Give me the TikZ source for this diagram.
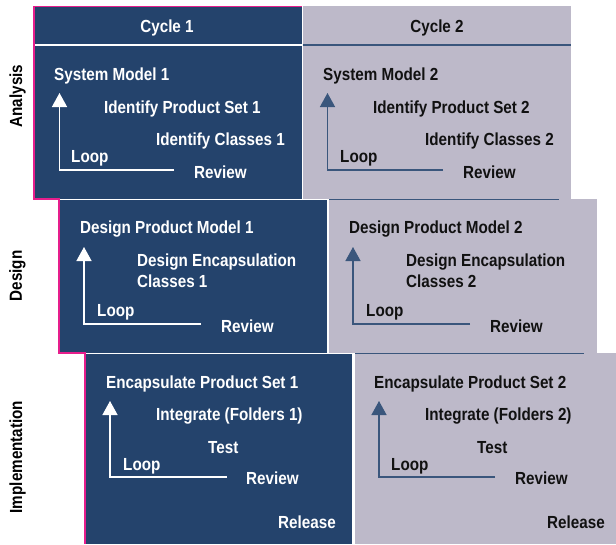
\documentclass[tikz,border=0pt]{standalone}
\usepackage{fontspec}
\newfontfamily\lf{Liberation Sans}[FakeStretch=0.87]
\usetikzlibrary{arrows.meta}
\definecolor{darkbox}{RGB}{36,67,108}
\definecolor{graybox}{RGB}{189,185,201}
\definecolor{pinkedge}{RGB}{230,30,140}
\definecolor{grayline}{RGB}{58,86,124}
\definecolor{graytext}{RGB}{17,17,17}
\tikzset{
  txt/.style={anchor=base west, inner sep=0pt, font=\lf\bfseries\fontsize{17.5}{20}\selectfont},
  wtxt/.style={txt, text=white},
  gtxt/.style={txt, text=graytext},
  rowlbl/.style={anchor=center, inner sep=0pt, rotate=90, font=\lf\bfseries\fontsize{17.5}{20}\selectfont, text=black},
  wloop/.style={draw=white, line width=1.4pt, -{Triangle[width=15pt,length=14pt]}},
  gloop/.style={draw=grayline, line width=1.4pt, -{Triangle[width=15pt,length=14pt]}},
  pinkb/.style={draw=pinkedge, line width=2pt},
  whiteb/.style={draw=white, line width=1.3pt},
  grayb/.style={draw=grayline, line width=1.3pt}
}
\begin{document}
\begin{tikzpicture}[x=1pt,y=-1pt]
\useasboundingbox (0,0) rectangle (616,544);
% ---------- Analysis row ----------
\fill[darkbox] (33,6) rectangle (302,199);
\draw[whiteb] (33,45) -- (302,45);
\draw[whiteb] (302.3,6) -- (302.3,199);
\draw[pinkedge, line width=1pt] (33,6.5) -- (302,6.5);
\draw[pinkb] (34,6) -- (34,199) -- (60,199);
\fill[graybox] (303,6) rectangle (571,199);
\draw[grayb] (303,45) -- (571,45);
% ---------- Design row ----------
\fill[darkbox] (58,199) rectangle (327,353);
\draw[whiteb] (58,199.5) -- (328,199.5);
\draw[whiteb] (327.5,199) -- (327.5,353);
\draw[pinkb] (59,199) -- (59,353) -- (86,353);
\fill[graybox] (329,199) rectangle (597,353);
\draw[grayb] (329,199.8) -- (559,199.8);
% ---------- Implementation row ----------
\fill[darkbox] (84,353) rectangle (352,544);
\draw[whiteb] (84,353.5) -- (353,353.5);
\draw[whiteb] (352.8,353) -- (352.8,544);
\draw[pinkb] (85,353) -- (85,544);
\fill[graybox] (355,353) rectangle (616,544);
\draw[grayb] (355,353.8) -- (584,353.8);
% ---------- Row labels ----------
\node[rowlbl] (lanalysis) at (17.5,96) {Analysis};
\node[rowlbl] (ldesign) at (17.5,276) {Design};
\node[rowlbl] (limpl) at (17.5,457) {Implementation};
% ---------- Headers ----------
\node[wtxt, anchor=base] (cyc1) at (167,32) {Cycle 1};
\node[gtxt, anchor=base] (cyc2) at (437,32) {Cycle 2};
% ---------- Analysis cycle 1 ----------
\node[wtxt] (a1sys) at (54,80) {System Model 1};
\node[wtxt] (a1ips) at (104,113) {Identify Product Set 1};
\node[wtxt] (a1ic) at (156,145) {Identify Classes 1};
\node[wtxt] (a1loop) at (71,162) {Loop};
\node[wtxt] (a1rev) at (194,178) {Review};
\coordinate (a1s) at (174,170);
\coordinate (a1c) at (59.5,170);
\coordinate (a1t) at (59.5,93);
\draw[wloop] (a1s) -- (a1c) -- (a1t);
% ---------- Analysis cycle 2 ----------
\node[gtxt] (a2sys) at (323,80) {System Model 2};
\node[gtxt] (a2ips) at (373,113) {Identify Product Set 2};
\node[gtxt] (a2ic) at (425,145) {Identify Classes 2};
\node[gtxt] (a2loop) at (340,162) {Loop};
\node[gtxt] (a2rev) at (463,178) {Review};
\coordinate (a2s) at (443,170);
\coordinate (a2c) at (327.5,170);
\coordinate (a2t) at (327.5,93);
\draw[gloop] (a2s) -- (a2c) -- (a2t);
% ---------- Design cycle 1 ----------
\node[wtxt] (d1dpm) at (80,233) {Design Product Model 1};
\node[wtxt] (d1dec) at (137,266) {Design Encapsulation};
\node[wtxt] (d1cls) at (137,287) {Classes 1};
\node[wtxt] (d1loop) at (97,316) {Loop};
\node[wtxt] (d1rev) at (221,332) {Review};
\coordinate (d1s) at (201,324);
\coordinate (d1c) at (84,324);
\coordinate (d1t) at (84,247);
\draw[wloop] (d1s) -- (d1c) -- (d1t);
% ---------- Design cycle 2 ----------
\node[gtxt] (d2dpm) at (349,233) {Design Product Model 2};
\node[gtxt] (d2dec) at (406,266) {Design Encapsulation};
\node[gtxt] (d2cls) at (406,287) {Classes 2};
\node[gtxt] (d2loop) at (366,316) {Loop};
\node[gtxt] (d2rev) at (490,332) {Review};
\coordinate (d2s) at (470,324);
\coordinate (d2c) at (353,324);
\coordinate (d2t) at (353,247);
\draw[gloop] (d2s) -- (d2c) -- (d2t);
% ---------- Implementation cycle 1 ----------
\node[wtxt] (i1eps) at (106,388) {Encapsulate Product Set 1};
\node[wtxt] (i1int) at (156,420) {Integrate (Folders 1)};
\node[wtxt] (i1test) at (208,453) {Test};
\node[wtxt] (i1loop) at (123,470) {Loop};
\node[wtxt] (i1rev) at (246,484) {Review};
\node[wtxt] (i1rel) at (278,528) {Release};
\coordinate (i1s) at (227,477);
\coordinate (i1c) at (110,477);
\coordinate (i1t) at (110,401);
\draw[wloop] (i1s) -- (i1c) -- (i1t);
% ---------- Implementation cycle 2 ----------
\node[gtxt] (i2eps) at (374,388) {Encapsulate Product Set 2};
\node[gtxt] (i2int) at (425,420) {Integrate (Folders 2)};
\node[gtxt] (i2test) at (477,453) {Test};
\node[gtxt] (i2loop) at (391,470) {Loop};
\node[gtxt] (i2rev) at (515,484) {Review};
\node[gtxt] (i2rel) at (547,528) {Release};
\coordinate (i2s) at (495,477);
\coordinate (i2c) at (379,477);
\coordinate (i2t) at (379,401);
\draw[gloop] (i2s) -- (i2c) -- (i2t);
\end{tikzpicture}
\end{document}
